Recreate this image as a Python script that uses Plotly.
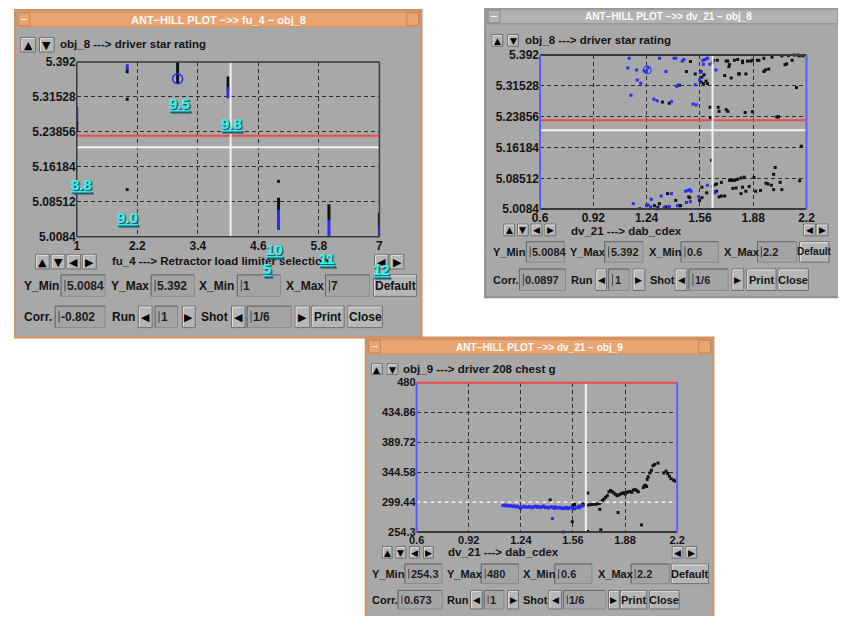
import plotly.graph_objects as go

# ------------------------------------------------------------------ data
# Window 1 : fu_4 -> obj_8 (driver star rating)
w1_x_ticks = [1, 2.2, 3.4, 4.6, 5.8, 7]
w1_x_text = ["1", "2.2", "3.4", "4.6", "5.8", "7"]
w1_y_ticks = [5.0084, 5.08512, 5.16184, 5.23856, 5.31528, 5.392]
w1_y_text = ["5.0084", "5.08512", "5.16184", "5.23856", "5.31528", "5.392"]
w1_cols = [1, 2, 3, 4, 5, 6, 7]
w1_black_lo = [5.240, 5.367, 5.344, 5.330, 5.066, 5.045, 5.030]
w1_black_hi = [5.262, 5.376, 5.392, 5.360, 5.094, 5.080, 5.061]
w1_blue_lo = [5.262, 5.376, None, 5.312, 5.023, 5.0084, 5.0084]
w1_blue_hi = [5.294, 5.387, None, 5.337, 5.066, 5.045, 5.030]
w1_dots_x = [2, 2, 5]
w1_dots_y = [5.310, 5.112, 5.130]
w1_sel_x = [3]
w1_sel_y = [5.355]
w1_red_y = 5.2298
w1_white_y = 5.2049
w1_white_x = 4.05
w1_labels = ["9.5", "9.8", "8.8", "9.0", "10", "11", "5", "12"]

# Window 2 : dv_21 -> obj_8
w2_x_ticks = [0.6, 0.92, 1.24, 1.56, 1.88, 2.2]
w2_x_text = ["0.6", "0.92", "1.24", "1.56", "1.88", "2.2"]
w2_y_ticks = w1_y_ticks
w2_y_text = w1_y_text
w2_blue_x = [1.135, 1.127, 1.180, 1.184, 1.205, 1.146, 1.225, 1.248, 1.239, 1.317, 1.356, 1.284,
             1.303, 1.389, 1.405, 1.415, 1.464, 1.454, 1.429, 1.421, 1.519, 1.538, 1.532, 1.558,
             1.577, 1.591, 1.581, 1.621, 1.605, 1.656, 1.562,
             1.160, 1.199, 1.239, 1.248, 1.264, 1.268, 1.327, 1.303, 1.346, 1.376, 1.389, 1.425,
             1.474, 1.487, 1.499, 1.507, 1.479, 1.503, 1.552, 1.605, 1.640, 1.650, 1.636]
w2_blue_y = [5.384, 5.360, 5.355, 5.330, 5.322, 5.292, 5.353, 5.360, 5.351, 5.384, 5.351, 5.282,
             5.278, 5.276, 5.384, 5.384, 5.381, 5.377, 5.317, 5.314, 5.270, 5.268, 5.318, 5.330,
             5.379, 5.381, 5.369, 5.369, 5.384, 5.355, 5.349,
             5.022, 5.010, 5.017, 5.019, 5.014, 5.033, 5.041, 5.009, 5.013, 5.015, 5.047, 5.017,
             5.053, 5.055, 5.057, 5.053, 5.025, 5.027, 5.039, 5.068, 5.053, 5.049, 5.065]
w2_black_x = [1.376, 1.479, 1.532, 1.566, 1.572, 1.585, 1.597, 1.605, 1.636, 1.640, 1.664, 1.718,
              1.728, 1.738, 1.734, 1.787, 1.793, 1.816, 1.836, 1.846, 1.875, 1.905, 1.944, 1.993,
              2.052, 2.071, 2.114, 2.126, 2.149, 2.179, 2.140, 1.944, 1.954, 1.973, 1.709, 1.748,
              1.797, 1.621, 1.670, 1.675, 1.718, 1.728, 1.832, 1.875, 2.022, 2.032, 1.624, 1.566,
              1.581, 1.767, 1.816, 1.865, 1.914, 1.503, 1.436, 1.335, 2.092, 2.157, 2.081,
              2.169, 1.630, 2.012, 2.003, 1.957, 1.969, 1.989, 2.003, 2.042, 2.052, 2.159, 1.738,
              1.748, 1.758, 1.767, 1.777, 1.787, 1.807, 1.826, 1.885, 1.856, 1.816, 1.807, 1.836,
              1.895, 1.924, 1.758, 1.777, 1.689, 1.660, 1.650, 1.572, 1.601, 1.660, 1.675, 1.689,
              1.709, 1.572, 1.558, 1.493, 1.499, 1.444, 1.434, 1.415, 1.366, 1.317, 1.356, 1.307,
              1.287]
w2_black_y = [5.272, 5.351, 5.345, 5.351, 5.337, 5.343, 5.327, 5.321, 5.373, 5.379, 5.379, 5.377,
              5.377, 5.368, 5.363, 5.381, 5.345, 5.373, 5.345, 5.377, 5.379, 5.379, 5.384, 5.387,
              5.390, 5.368, 5.379, 5.392, 5.392, 5.390, 5.311, 5.351, 5.355, 5.357, 5.341, 5.335,
              5.345, 5.262, 5.262, 5.252, 5.256, 5.252, 5.249, 5.251, 5.238, 5.238, 5.235, 5.325,
              5.321, 5.379, 5.377, 5.377, 5.379, 5.376, 5.317, 5.275, 5.391, 5.390, 5.370,
              5.165, 5.130, 5.112, 5.095, 5.073, 5.071, 5.068, 5.057, 5.075, 5.057, 5.079, 5.080,
              5.080, 5.080, 5.080, 5.082, 5.083, 5.086, 5.088, 5.087, 5.065, 5.063, 5.047, 5.053,
              5.053, 5.055, 5.060, 5.061, 5.075, 5.071, 5.069, 5.063, 5.049, 5.053, 5.039, 5.041,
              5.041, 5.037, 5.030, 5.039, 5.037, 5.017, 5.017, 5.030, 5.047, 5.022, 5.014, 5.013,
              5.017]
w2_sel_x = [1.244]
w2_sel_y = [5.355]
w2_red_y = 5.2298
w2_white_y = 5.2047
w2_white_x = 1.636

# Window 3 : dv_21 -> obj_9 (driver 208 chest g)
w3_x_ticks = w2_x_ticks
w3_x_text = w2_x_text
w3_y_ticks = [254.3, 299.44, 344.58, 389.72, 434.86, 480]
w3_y_text = ["254.3", "299.44", "344.58", "389.72", "434.86", "480"]
w3_blue_x = [1.13, 1.14, 1.15, 1.16, 1.17, 1.18, 1.19, 1.20, 1.21, 1.22, 1.23, 1.24, 1.25, 1.26,
             1.27, 1.28, 1.29, 1.30, 1.31, 1.32, 1.33, 1.34, 1.35, 1.36, 1.37, 1.38, 1.39, 1.40,
             1.41, 1.42, 1.43, 1.44, 1.45, 1.46, 1.47, 1.48, 1.49, 1.50, 1.51, 1.52, 1.53, 1.54,
             1.55, 1.56, 1.57, 1.58, 1.59, 1.60, 1.61, 1.62, 1.434, 1.50]
w3_blue_y = [294.5, 295.2, 293.8, 294.9, 293.5, 294.2, 292.8, 293.9, 292.4, 293.5, 291.2, 290.3,
             292.0, 293.4, 292.1, 291.5, 293.0, 292.2, 291.0, 292.6, 293.4, 291.8, 292.9, 291.5,
             292.4, 293.1, 291.3, 292.0, 290.8, 291.9, 292.5, 291.0, 290.2, 291.4, 290.6, 291.8,
             290.4, 289.8, 291.2, 290.5, 289.6, 290.9, 291.5, 290.2, 289.5, 291.0, 292.3, 291.2,
             293.0, 294.1, 274.9, 254.5]
w3_black_x = [1.38, 1.42, 1.45, 1.52, 1.56, 1.57, 1.60, 1.62, 1.63, 1.556, 1.651, 1.731, 1.837,
              1.981, 1.651, 1.725,
              1.641, 1.661, 1.677, 1.691, 1.705, 1.721, 1.731, 1.741, 1.751, 1.761, 1.771, 1.781,
              1.791, 1.801, 1.811, 1.821, 1.831, 1.841, 1.851, 1.861, 1.871, 1.881, 1.891, 1.901,
              1.911, 1.921, 1.931, 1.941, 1.951, 1.961, 1.992, 1.998, 2.006, 2.012, 2.016, 2.022,
              2.032, 2.042, 2.052, 2.062, 2.082, 2.118, 2.132, 2.142, 2.152, 2.162, 2.178, 2.186]
w3_black_y = [293.5, 302.9, 292.2, 291.0, 294.5, 296.0, 293.5, 296.5, 295.8, 270.0, 255.2, 257.7,
              283.8, 265.1, 313.3, 288.7,
              294.6, 295.6, 296.0, 296.5, 296.5, 297.5, 299.5, 302.0, 304.4, 306.9, 309.3, 315.2,
              317.2, 315.2, 313.3, 311.3, 309.3, 310.3, 311.8, 312.8, 313.8, 311.8, 314.2, 315.2,
              315.7, 314.2, 317.7, 318.7, 317.2, 315.2, 321.6, 324.1, 325.1, 323.1, 333.9, 337.8,
              343.7, 347.7, 354.6, 356.5, 358.5, 343.7, 346.2, 342.8, 338.8, 334.9, 332.9, 331.4]
w3_white_x = 1.639
w3_white_y = 299.44

# ------------------------------------------------------------------ style
# The page keeps the browser's 8px body margin, so the figure is 16px smaller
# than the window and every screen position is offset by 8px.
PAGE_W, PAGE_H, PAD = 846, 624, 8
FIG_W, FIG_H = PAGE_W - 2 * PAD, PAGE_H - 2 * PAD
FONT = "Liberation Sans"
GLYPH = "DejaVu Sans"
GRAY = "#a8a8a8"
BTN = "#b6b6b6"
TXT = "#141414"
ORANGE = "#eaa46f"
ORANGE_EDGE = "#d98f5a"
BLACK_PT = "#111111"
BLUE_PT = "#2b2bff"
FRAME_BLUE = "#5c5cff"
RED = "#ee4b4b"
WHITE = "#f2f2f2"
CYAN = "#38f2f2"

shapes, annots = [], []


def px(x):
    return (x - PAD) / FIG_W


def py(y):
    return 1 - (y - PAD) / FIG_H


def rect(x0, y0, x1, y1, fill, line=None, lw=1, layer="below"):
    shapes.append(dict(type="rect", xref="paper", yref="paper",
                       x0=px(x0), x1=px(x1), y0=py(y1), y1=py(y0),
                       fillcolor=fill, layer=layer,
                       line=dict(color=line if line else "rgba(0,0,0,0)",
                                 width=lw if line else 0)))


def seg(x0, y0, x1, y1, color, lw=1, layer="below"):
    shapes.append(dict(type="line", xref="paper", yref="paper",
                       x0=px(x0), x1=px(x1), y0=py(y0), y1=py(y1),
                       line=dict(color=color, width=lw), layer=layer))


def txt(x, y, s, size=12, color=TXT, anchor="left", weight="bold", family=FONT, **kw):
    annots.append(dict(xref="paper", yref="paper", x=px(x), y=py(y), text=s,
                       showarrow=False, xanchor=anchor, yanchor="middle", borderpad=0,
                       font=dict(family=family, size=size, color=color, weight=weight), **kw))


def button(x0, y0, x1, y1, label, size=12, glyph=False):
    rect(x0, y0, x1, y1, BTN, "#6f6f6f")
    seg(x0 + 1, y0 + 1, x1 - 1, y0 + 1, "#dedede")
    seg(x0 + 1, y0 + 1, x0 + 1, y1 - 1, "#dedede")
    if glyph:
        txt((x0 + x1) / 2, (y0 + y1) / 2 + 0.5, label, size, anchor="center",
            weight="normal", family=GLYPH, color="#000")
    else:
        txt((x0 + x1) / 2, (y0 + y1) / 2, label, size, anchor="center")


def field(x0, y0, x1, y1, value, size=12):
    rect(x0, y0, x1, y1, "#a4a4a4", "#8a8a8a")
    seg(x0, y0, x1, y0, "#6a6a6a")
    seg(x0, y0, x0, y1, "#6a6a6a")
    seg(x0 + 4, y0 + 5, x0 + 4, y1 - 5, "#444", 1)
    txt(x0 + 5, (y0 + y1) / 2, value, size, color="#1e1e1e")


def window(x0, y0, x1, y1, title, active, tsize=10):
    edge = ORANGE_EDGE if active else "#8e8e8e"
    rect(x0, y0, x1, y1, GRAY, edge, 2)
    bar = ORANGE if active else "#b2b2b2"
    rect(x0 + 2, y0 + 2, x1 - 2, y0 + 17, bar, edge, 1)
    rect(x0 + 3, y0 + 3, x0 + 15, y0 + 16, bar, "#c98552" if active else "#8a8a8a", 1)
    seg(x0 + 6, y0 + 9.5, x0 + 12, y0 + 9.5, "#fafafa", 1)
    rect(x1 - 15, y0 + 3, x1 - 3, y0 + 16, bar, "#c98552" if active else "#8a8a8a", 1)
    txt((x0 + x1) / 2, y0 + 10, title, tsize, color="#fbfbfb", anchor="center")


def axis_frame(xa, ya, top, bottom, left, right, lw=1.5):
    xd, yd = xa + " domain", ya + " domain"
    for (a, b, c, d, col) in [(0, 1, 1, 1, top), (0, 1, 0, 0, bottom),
                              (0, 0, 0, 1, left), (1, 1, 0, 1, right)]:
        shapes.append(dict(type="line", xref=xd, yref=yd, x0=a, x1=b, y0=c, y1=d,
                           line=dict(color=col, width=lw), layer="above"))


def hdata(xa, ya, yv, color, lw=1.5, dash=None):
    shapes.append(dict(type="line", xref=xa + " domain", yref=ya, x0=0, x1=1, y0=yv, y1=yv,
                       line=dict(color=color, width=lw, dash=dash), layer="above"))


def vdata(xa, ya, xv, color, lw=1.5):
    shapes.append(dict(type="line", xref=xa, yref=ya + " domain", x0=xv, x1=xv, y0=0, y1=1,
                       line=dict(color=color, width=lw), layer="above"))


# ------------------------------------------------------------------ windows
window(7, 3, 422, 338, "ANT\u2212HILL PLOT \u2212>> fu_4 \u2212 obj_8", True, 11)
window(487, 0, 862, 297, "ANT\u2212HILL PLOT \u2212>> dv_21 \u2212 obj_8", False, 10)
window(365, 338, 720, 640, "ANT\u2212HILL PLOT \u2212>> dv_21 \u2212 obj_9", True, 10)

S1 = 12      # window-1 text size
S2 = 11      # window-2/3 text size

# window 1 controls
button(13, 31, 28, 46, "\u25B2", 11, True)
button(32, 31, 47, 46, "\u25BC", 11, True)
txt(52, 38, "obj_8 ---> driver star rating", 11.5)
for (a, g) in [(28, "\u25B2"), (44, "\u25BC"), (60, "\u25C0"), (76, "\u25B6")]:
    button(a, 253, a + 14, 268, g, 11, True)
txt(105, 260, "fu_4 ---> Retractor load limiter selection", 11.5)
button(374, 253, 388, 268, "\u25C0", 11, True)
button(390, 253, 404, 268, "\u25B6", 11, True)
r1, r2 = (274, 296), (306, 328)
c1, c2 = sum(r1) / 2, sum(r2) / 2
txt(15, c1, "Y_Min", S1)
field(54, r1[0], 99, r1[1], "5.0084", S1)
txt(104, c1, "Y_Max", S1)
field(146, r1[0], 190, r1[1], "5.392", S1)
txt(194, c1, "X_Min", S1)
field(234, r1[0], 278, r1[1], "1", S1)
txt(283, c1, "X_Max", S1)
field(324, r1[0], 369, r1[1], "7", S1)
button(373, r1[0], 417, r1[1], "Default", S1)
txt(15, c2, "Corr.", S1)
field(48, r2[0], 99, r2[1], "-0.802", S1)
txt(105, c2, "Run", S1)
button(133, r2[0], 147, r2[1], "\u25C0", 11, True)
field(150, r2[0], 173, r2[1], "1", S1)
button(178, r2[0], 191, r2[1], "\u25B6", 11, True)
txt(196, c2, "Shot", S1)
button(228, r2[0], 242, r2[1], "\u25C0", 11, True)
field(244, r2[0], 289, r2[1], "1/6", S1)
button(293, r2[0], 308, r2[1], "\u25B6", 11, True)
button(310, r2[0], 343, r2[1], "Print", S1)
button(347, r2[0], 382, r2[1], "Close", S1)

# window 2 controls
button(494, 28, 505, 40, "\u25B2", 9, True)
button(510, 28, 521, 40, "\u25BC", 9, True)
txt(527, 34, "obj_8 ---> driver star rating", 11.5)
for (a, g) in [(506, "\u25B2"), (520, "\u25BC"), (534, "\u25C0"), (548, "\u25B6")]:
    button(a, 222, a + 11, 234, g, 9, True)
txt(574, 229, "dv_21 ---> dab_cdex", 11.5)
button(812, 222, 824, 234, "\u25C0", 9, True)
button(825, 222, 837, 234, "\u25B6", 9, True)
r1, r2 = (240, 261), (268, 290)
c1, c2 = sum(r1) / 2, sum(r2) / 2
txt(494, c1, "Y_Min", S2)
field(529, r1[0], 568, r1[1], "5.0084", S2)
txt(573, c1, "Y_Max", S2)
field(609, r1[0], 648, r1[1], "5.392", S2)
txt(653, c1, "X_Min", S2)
field(687, r1[0], 725, r1[1], "0.6", S2)
txt(730, c1, "X_Max", S2)
field(765, r1[0], 805, r1[1], "2.2", S2)
button(808, r1[0], 838, r1[1], "Default", 10)
txt(494, c2, "Corr.", S2)
field(522, r2[0], 569, r2[1], "0.0897", S2)
txt(574, c2, "Run", S2)
button(600, r2[0], 611, r2[1], "\u25C0", 9, True)
field(613, r2[0], 634, r2[1], "1", S2)
button(638, r2[0], 650, r2[1], "\u25B6", 9, True)
txt(654, c2, "Shot", S2)
button(681, r2[0], 693, r2[1], "\u25C0", 9, True)
field(695, r2[0], 735, r2[1], "1/6", S2)
button(739, r2[0], 751, r2[1], "\u25B6", 9, True)
button(754, r2[0], 784, r2[1], "Print", S2)
button(786, r2[0], 817, r2[1], "Close", S2)

# window 3 controls
button(371, 365, 382, 376, "\u25B2", 9, True)
button(387, 365, 398, 376, "\u25BC", 9, True)
txt(402, 370, "obj_9 ---> driver 208 chest g", 11.5)
for (a, g) in [(382, "\u25B2"), (396, "\u25BC"), (410, "\u25C0"), (424, "\u25B6")]:
    button(a, 552, a + 10, 564, g, 9, True)
txt(448, 558, "dv_21 ---> dab_cdex", 11.5)
button(678, 552, 689, 564, "\u25C0", 9, True)
button(692, 552, 703, 564, "\u25B6", 9, True)
r1, r2 = (570, 590), (597, 616)
c1, c2 = sum(r1) / 2, sum(r2) / 2
txt(370, c1, "Y_Min", S2)
field(405, r1[0], 443, r1[1], "254.3", S2)
txt(447, c1, "Y_Max", S2)
field(483, r1[0], 521, r1[1], "480", S2)
txt(525, c1, "X_Min", S2)
field(558, r1[0], 596, r1[1], "0.6", S2)
txt(601, c1, "X_Max", S2)
field(636, r1[0], 675, r1[1], "2.2", S2)
button(677, r1[0], 715, r1[1], "Default", S2)
txt(370, c2, "Corr.", S2)
field(398, r2[0], 443, r2[1], "0.673", S2)
txt(447, c2, "Run", S2)
button(472, r2[0], 484, r2[1], "\u25C0", 9, True)
field(486, r2[0], 506, r2[1], "1", S2)
button(510, r2[0], 521, r2[1], "\u25B6", 9, True)
txt(525, c2, "Shot", S2)
button(552, r2[0], 565, r2[1], "\u25C0", 9, True)
field(567, r2[0], 610, r2[1], "1/6", S2)
button(613, r2[0], 624, r2[1], "\u25B6", 9, True)
button(625, r2[0], 652, r2[1], "Print", S2)
button(655, r2[0], 685, r2[1], "Close", S2)

# cyan value labels on plot 1
label_pos = [(175, 99), (228, 119), (75, 182), (122, 215), (272, 248), (325, 257), (264, 267), (381, 268)]
for s, (lx, ly) in zip(w1_labels, label_pos):
    annots.append(dict(xref="paper", yref="paper", x=px(lx), y=py(ly), text=s, showarrow=False,
                       xanchor="center", yanchor="middle",
                       font=dict(family=FONT, size=15, color=CYAN, weight="bold",
                                 lineposition="under", shadow="1px 1px 1px #1d5a66")))

# reference lines and frames
hdata("x", "y", w1_red_y, RED, 2)
hdata("x", "y", w1_white_y, WHITE, 2)
vdata("x", "y", w1_white_x, WHITE, 2)
axis_frame("x", "y", "#3a3a3a", "#3a3a3a", "#3a3a3a", "#3a3a3a")

hdata("x2", "y2", w2_red_y, RED, 2)
hdata("x2", "y2", w2_white_y, WHITE, 2)
vdata("x2", "y2", w2_white_x, WHITE, 2)
axis_frame("x2", "y2", "#3a3a3a", "#3a3a3a", FRAME_BLUE, FRAME_BLUE, 2)

hdata("x3", "y3", w3_white_y, WHITE, 1.5, dash="4px,3px")
vdata("x3", "y3", w3_white_x, WHITE, 2)
axis_frame("x3", "y3", RED, "#3a3a3a", FRAME_BLUE, FRAME_BLUE, 2)

# ------------------------------------------------------------------ traces
fig = go.Figure()


def column_segments(xs, lo, hi):
    sx, sy = [], []
    for x, a, b in zip(xs, lo, hi):
        if a is None:
            continue
        sx += [x, x, None]
        sy += [a, b, None]
    return sx, sy


bx, by = column_segments(w1_cols, w1_black_lo, w1_black_hi)
fig.add_trace(go.Scatter(x=bx, y=by, mode="lines", line=dict(color=BLACK_PT, width=3),
                         xaxis="x", yaxis="y", cliponaxis=False, hoverinfo="skip"))
ux, uy = column_segments(w1_cols, w1_blue_lo, w1_blue_hi)
fig.add_trace(go.Scatter(x=ux, y=uy, mode="lines", line=dict(color=BLUE_PT, width=3),
                         xaxis="x", yaxis="y", cliponaxis=False, hoverinfo="skip"))
fig.add_trace(go.Scatter(x=w1_dots_x, y=w1_dots_y, mode="markers",
                         marker=dict(symbol="square", size=3, color=BLACK_PT),
                         xaxis="x", yaxis="y", cliponaxis=False))
fig.add_trace(go.Scatter(x=w1_sel_x, y=w1_sel_y, mode="markers",
                         marker=dict(symbol="circle-open", size=10, color=BLUE_PT, line=dict(width=1.5)),
                         xaxis="x", yaxis="y", cliponaxis=False))

fig.add_trace(go.Scatter(x=w2_black_x, y=w2_black_y, mode="markers",
                         marker=dict(symbol="square", size=3, color=BLACK_PT),
                         xaxis="x2", yaxis="y2", cliponaxis=False))
fig.add_trace(go.Scatter(x=w2_blue_x, y=w2_blue_y, mode="markers",
                         marker=dict(symbol="square", size=3, color=BLUE_PT),
                         xaxis="x2", yaxis="y2", cliponaxis=False))
fig.add_trace(go.Scatter(x=w2_sel_x, y=w2_sel_y, mode="markers",
                         marker=dict(symbol="circle-open", size=8, color=BLUE_PT, line=dict(width=1)),
                         xaxis="x2", yaxis="y2", cliponaxis=False))

fig.add_trace(go.Scatter(x=w3_black_x, y=w3_black_y, mode="markers",
                         marker=dict(symbol="square", size=3, color=BLACK_PT),
                         xaxis="x3", yaxis="y3", cliponaxis=False))
fig.add_trace(go.Scatter(x=w3_blue_x, y=w3_blue_y, mode="markers",
                         marker=dict(symbol="square", size=3, color=BLUE_PT),
                         xaxis="x3", yaxis="y3", cliponaxis=False))


def ax(domain, rng, tv, tt, anchor, size):
    return dict(domain=domain, range=rng, tickvals=tv, ticktext=tt, anchor=anchor,
                showgrid=True, gridcolor="#2e2e2e", gridwidth=1, griddash="4px,3px",
                zeroline=False, showline=False, ticks="", fixedrange=True,
                tickfont=dict(family=FONT, size=size, color=TXT, weight="bold"))


fig.update_layout(
    width=FIG_W, height=FIG_H, autosize=False,
    margin=dict(l=0, r=0, t=0, b=0),
    paper_bgcolor="white", plot_bgcolor="rgba(0,0,0,0)",
    showlegend=False, hovermode=False,
    xaxis=ax([px(70), px(379)], [1, 7], w1_x_ticks, w1_x_text, "y", 12),
    yaxis=ax([py(235), py(56)], [5.0084, 5.392], w1_y_ticks, w1_y_text, "x", 12),
    xaxis2=ax([px(543), px(815)], [0.6, 2.2], w2_x_ticks, w2_x_text, "y2", 12),
    yaxis2=ax([py(206.7), py(49)], [5.0084, 5.392], w2_y_ticks, w2_y_text, "x2", 12),
    xaxis3=ax([px(417), px(683)], [0.6, 2.2], w3_x_ticks, w3_x_text, "y3", 11),
    yaxis3=ax([py(537.3), py(384.3)], [254.3, 480], w3_y_ticks, w3_y_text, "x3", 11),
    shapes=shapes,
    annotations=annots,
)

fig.write_html("out.html", include_plotlyjs=True,
               config={"responsive": False, "displayModeBar": False, "staticPlot": True})
